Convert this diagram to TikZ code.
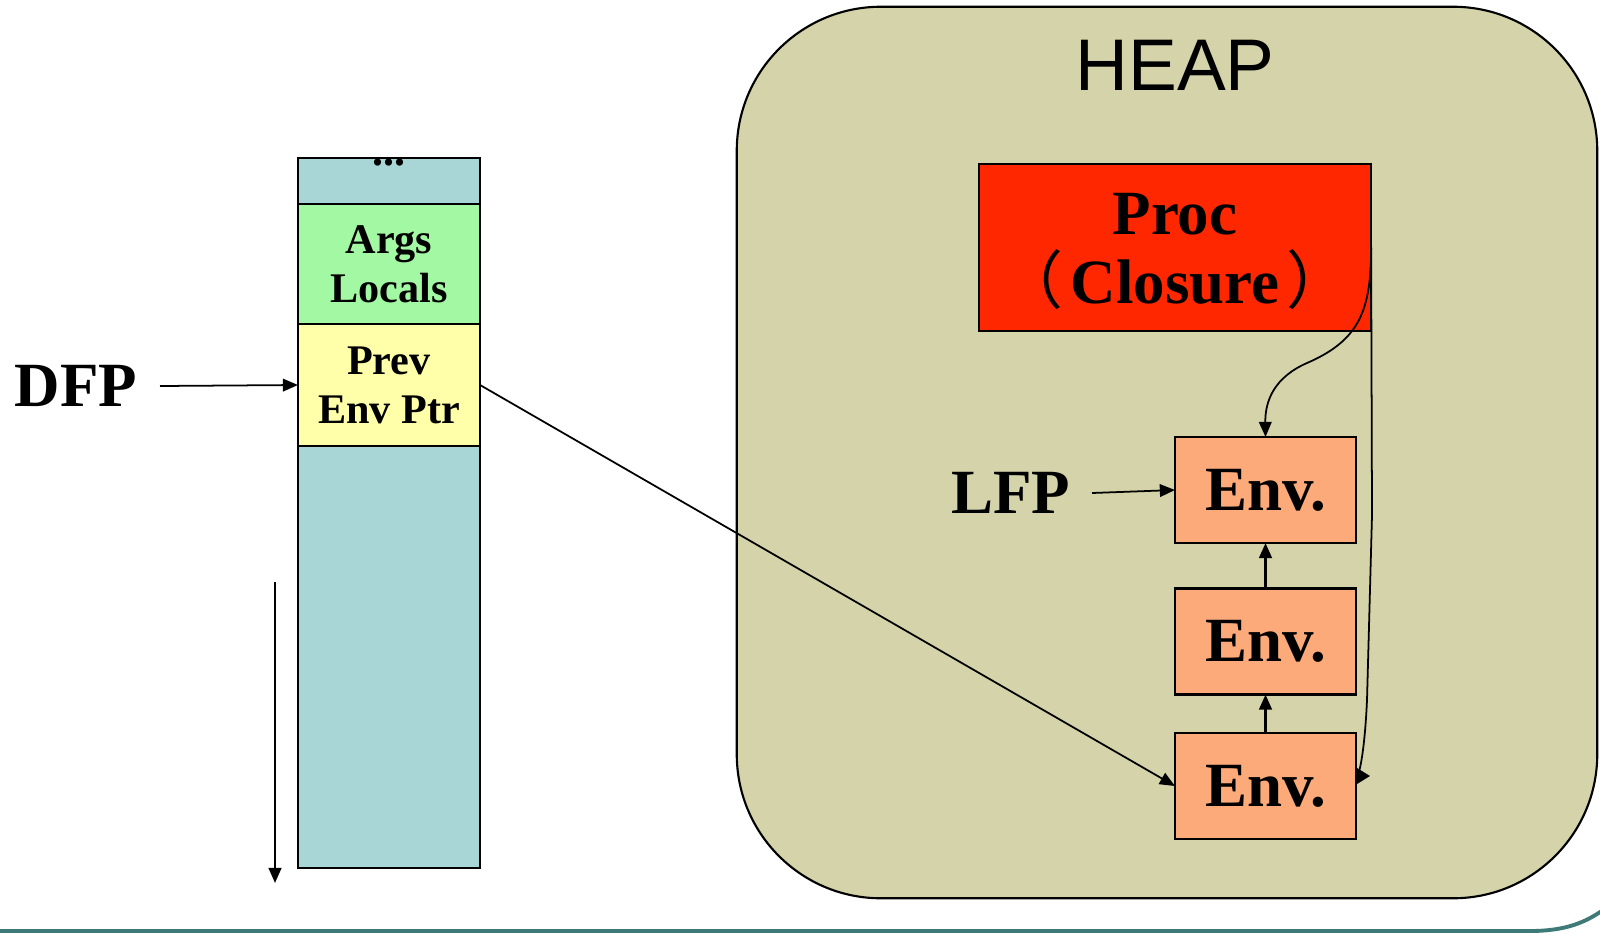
\documentclass[tikz,border=0pt]{standalone}
\usepackage{fontspec}
\setmainfont{Liberation Serif}
\newfontfamily\heapfont{Liberation Sans}
\newfontfamily\cjkfont{Noto Sans CJK SC}
\usetikzlibrary{arrows.meta}

\definecolor{stackcol}{HTML}{A8D5D6}
\definecolor{argscol}{HTML}{A3F9A3}
\definecolor{prevcol}{HTML}{FFFFAA}
\definecolor{heapcol}{HTML}{D4D3A9}
\definecolor{proccol}{HTML}{FF2700}
\definecolor{envcol}{HTML}{FDAA7A}
\definecolor{rulecol}{HTML}{3E7A78}

\begin{document}
\begin{tikzpicture}[x=0.01cm, y=-0.01cm,
  cell/.style={draw, line width=0.6pt, inner sep=0pt, outer sep=0pt,
    minimum width=1.82cm, align=center,
    font=\fontsize{12}{14}\selectfont\bfseries},
  heapbox/.style={draw, line width=0.6pt, fill=heapcol, inner sep=0pt,
    minimum width=8.6cm, minimum height=8.91cm, rounded corners=1.44cm},
  envbox/.style={draw, line width=0.6pt, fill=envcol, inner sep=0pt,
    outer sep=0pt, minimum width=1.81cm, minimum height=1.06cm,
    font=\fontsize{17.9}{20}\selectfont\bfseries},
  bigtext/.style={inner ysep=0pt, font=\fontsize{17.9}{20}\selectfont\bfseries},
  tip/.style={-{Triangle[length=4.3pt,width=3.6pt]}},
  link/.style={tip, line width=0.5pt},
  uplink/.style={tip, line width=0.75pt},
  slideline/.style={draw=rulecol, line width=1.1pt}
]
\useasboundingbox (0,0) rectangle (1600,933);

% slide rule along the bottom edge
\draw[slideline] (0,931) -- (1530,931)
  .. controls (1566,931) and (1586,922) .. (1603,910);

% ---------- stack ----------
\node[cell, fill=stackcol, minimum height=0.46cm] (sdots) at (389,181) {};
\node[cell, fill=argscol, minimum height=1.20cm] (sargs) at (389,264)
  {\fontsize{12}{14.2}\selectfont Args\\Locals};
\node[cell, fill=prevcol, minimum height=1.22cm] (sprev) at (389,385)
  {\fontsize{12}{13.1}\selectfont Prev\\Env Ptr};
\node[cell, fill=stackcol, minimum height=4.22cm] (srest) at (389,657) {};
\node[anchor=base, inner sep=0pt, font=\fontsize{12.5}{14}\selectfont\bfseries]
  (dotstext) at (389,165) {...};

% direction of stack growth
\coordinate (growtop) at (275,582);
\coordinate (growbot) at (275,883);
\draw[tip, line width=0.65pt] (growtop) -- (growbot);

% dynamic frame pointer
\node[bigtext, anchor=east, inner xsep=0.22cm] (dfp) at (160,386) {DFP};
\draw[link] (dfp.east) -- (sprev.west);

% ---------- heap ----------
\node[heapbox] (heap) at (1167,452.5) {};
\node[anchor=base, inner sep=0pt, font=\heapfont\fontsize{20.8}{24}\selectfont]
  (heaptitle) at (1175,90) {HEAP};

\node[draw, line width=0.6pt, fill=proccol, inner sep=0pt, outer sep=0pt,
  minimum width=3.92cm, minimum height=1.67cm, align=center,
  font=\fontsize{17.9}{20.6}\selectfont\bfseries] (proc) at (1175,247.5)
  {\raisebox{-1.5pt}{Proc}\\\raisebox{-0.5pt}[\height][0pt]{{\cjkfont\mdseries （}\hspace{0.12em}Closure\hspace{0.12em}{\cjkfont\mdseries ）}}};

\node[envbox] (env1) at (1265.5,490) {Env.};
\node[envbox] (env2) at (1265.5,641.5) {Env.};
\node[envbox] (env3) at (1265.5,786) {Env.};

\node[bigtext, anchor=east, inner xsep=0.21cm] (lfp) at (1092,493) {LFP};
\draw[link] (lfp.east) -- (env1.west);

\draw[uplink] (env2.north) -- (env1.south);
\draw[uplink] (env3.north) -- (env2.south);

% closure environment links
\draw[link] (proc.east) .. controls (1371,310) and (1360,340) .. (1307,363)
  .. controls (1275,377) and (1265,400) .. (env1.north);
\coordinate (closend) at (1370,776);
\draw[line width=0.5pt, -{Triangle[length=4pt,width=4.8pt]}]
  (proc.east) -- (1372,515) -- (1367,700)
  .. controls (1365,745) and (1360,776) .. (closend);

% previous environment pointer into the heap
\draw[link] (sprev.east) -- (env3.west);
\end{tikzpicture}
\end{document}
